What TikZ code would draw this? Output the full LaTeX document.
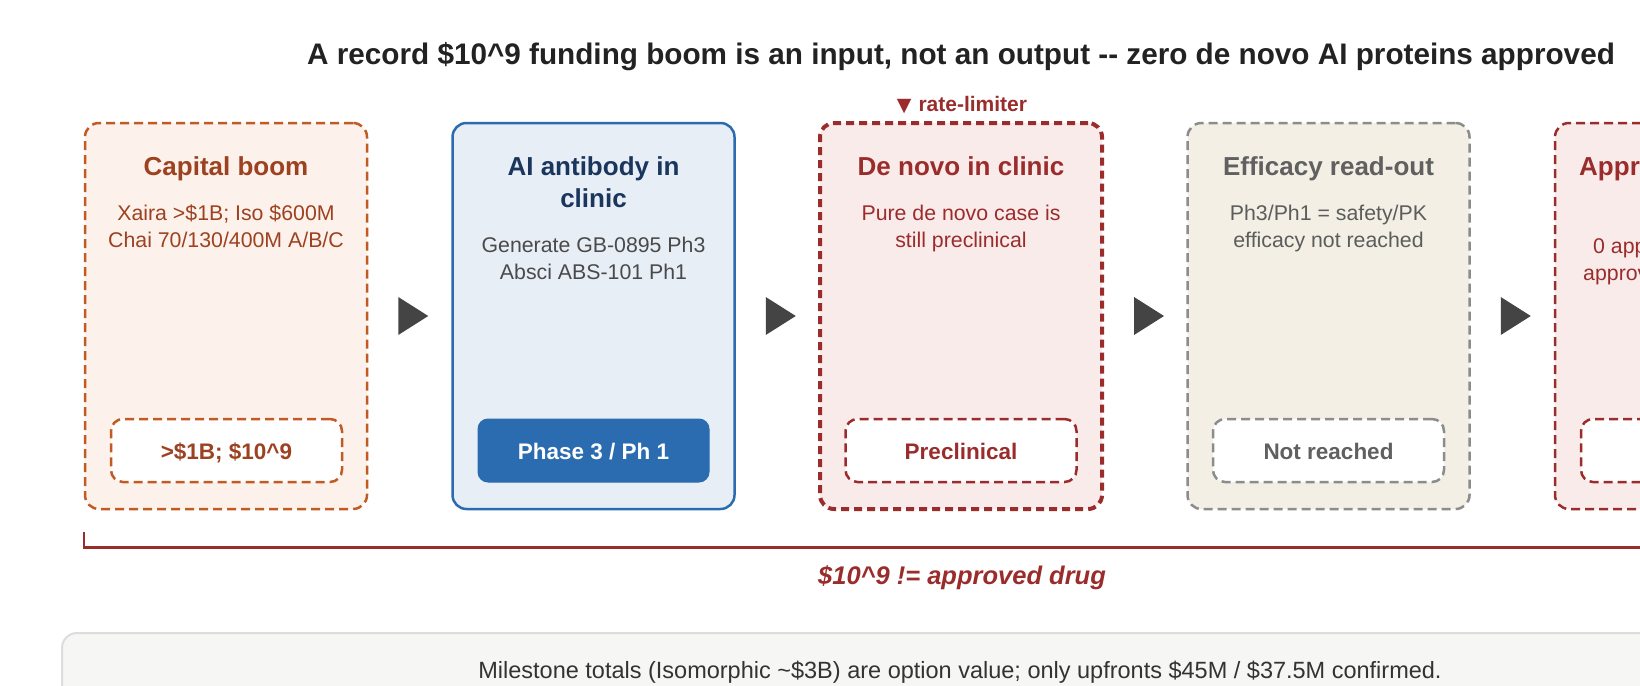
\documentclass[tikz,border=0pt]{standalone}
\usepackage{fontspec}
\setmainfont{Liberation Sans}
\newfontfamily\symfont{DejaVu Sans}
\usetikzlibrary{calc}
\definecolor{orgline}{HTML}{C25A24}
\definecolor{orgtext}{HTML}{9C4221}
\definecolor{orgfill}{HTML}{FDF1EB}
\definecolor{redline}{HTML}{9B2C2C}
\definecolor{redfill}{HTML}{FAEBEB}
\definecolor{blueline}{HTML}{2B6CB0}
\definecolor{bluefill}{HTML}{E8EEF6}
\definecolor{bluetitle}{HTML}{1A365D}
\definecolor{bluebody}{HTML}{4A4A4A}
\definecolor{grayline}{HTML}{8C8C8C}
\definecolor{grayfill}{HTML}{F3EFE5}
\definecolor{graytitle}{HTML}{606060}
\definecolor{graybody}{HTML}{5C5C5C}
\definecolor{arrowgray}{HTML}{444444}
\definecolor{titlecol}{HTML}{222222}
\definecolor{footfill}{HTML}{F6F6F4}
\definecolor{footline}{HTML}{DDDDDD}
\definecolor{foottext}{HTML}{333333}
\begin{document}
\begin{tikzpicture}[x=1pt,y=-1pt,
  card/.style={rounded corners=14pt, minimum width=282pt, minimum height=386pt, line width=2.5pt, inner sep=0pt},
  badge/.style={rounded corners=12pt, minimum width=231pt, minimum height=63pt, line width=2.5pt, inner sep=0pt,
    text height=17pt, text depth=0pt, font=\fontsize{22.5}{26}\selectfont\bfseries},
  dsh/.style={dash pattern=on 9pt off 5pt},
  ttl/.style={anchor=base, inner sep=0pt, font=\fontsize{26}{31}\selectfont\bfseries},
  bdy/.style={anchor=base, inner sep=0pt, font=\fontsize{21.3}{27}\selectfont},
  tri/.style={fill=arrowgray},
]
\useasboundingbox (0,0) rectangle (1640,685);
\clip (0,0) rectangle (1640,685);
\fill[white] (0,0) rectangle (1640,685);

% title
\node[anchor=base, inner sep=0pt, text=titlecol, font=\fontsize{29.7}{36}\selectfont\bfseries] (title) at (961,64)
  {A record \$10\^{}9 funding boom is an input, not an output -{}- zero de novo AI proteins approved};

% rate limiter label
\node[anchor=base, inner sep=0pt, text=redline, font=\fontsize{21}{25}\selectfont\bfseries] (rl) at (962,111)
  {{\symfont\fontsize{19}{23}\selectfont ▼}\hspace{7pt}rate-limiter};

% cards
\node[card, dsh, draw=orgline, fill=orgfill] (c1) at (226,316) {};
\node[card, draw=blueline, fill=bluefill] (c2) at (593.5,316) {};
\node[card, dash pattern=on 8pt off 5pt, line width=4pt, draw=redline, fill=redfill] (c3) at (961,316) {};
\node[card, dsh, draw=grayline, fill=grayfill] (c4) at (1328.5,316) {};
\node[card, dsh, draw=redline, fill=redfill] (c5) at (1696,316) {};

% arrows between cards
\foreach \a/\b in {c1/c2,c2/c3,c3/c4,c4/c5}{
  \fill[tri] ([xshift=30pt]\a.east) ++(0,-19) -- ++(30,19) -- ++(-30,19) -- cycle;
}

% card 1
\node[ttl, text=orgtext] (c1t) at (226,175) {Capital boom};
\node[bdy, text=orgtext] (c1a) at (226,220) {Xaira >\$1B; Iso \$600M};
\node[bdy, text=orgtext] (c1b) at (226,247) {Chai 70/130/400M A/B/C};
\node[badge, dsh, draw=orgline, fill=white, text=orgtext] (c1g) at (226.5,450.5) {>\$1B; \$10\^{}9};

% card 2
\node[ttl, text=bluetitle] (c2t) at (593.5,175) {AI antibody in};
\node[ttl, text=bluetitle] (c2u) at (593.5,207) {clinic};
\node[bdy, text=bluebody] (c2a) at (593.5,252) {Generate GB-0895 Ph3};
\node[bdy, text=bluebody] (c2b) at (593.5,279) {Absci ABS-101 Ph1};
\node[badge, draw=blueline, fill=blueline, rounded corners=10pt, line width=1pt, text=white] (c2g) at (593.5,450.5) {Phase 3 / Ph 1};

% card 3
\node[ttl, text=redline] (c3t) at (961,175) {De novo in clinic};
\node[bdy, text=redline] (c3a) at (961,220) {Pure de novo case is};
\node[bdy, text=redline] (c3b) at (961,247) {still preclinical};
\node[badge, dsh, draw=redline, fill=white, text=redline] (c3g) at (961,450.5) {Preclinical};

% card 4
\node[ttl, text=graytitle] (c4t) at (1328.5,175) {Efficacy read-out};
\node[bdy, text=graybody] (c4a) at (1328.5,220) {Ph3/Ph1 = safety/PK};
\node[bdy, text=graybody] (c4b) at (1328.5,247) {efficacy not reached};
\node[badge, dsh, draw=grayline, fill=white, text=graytitle] (c4g) at (1328.5,450.5) {Not reached};

% card 5 (cut by the right edge)
\node[ttl, anchor=base west, text=redline] (c5t) at (1579,175) {Approved};
\node[bdy, anchor=base west, text=redline] (c5a) at (1593,253) {0 approved};
\node[bdy, anchor=base west, text=redline] (c5b) at (1583,280) {approved};
\node[badge, dsh, draw=redline, fill=white] (c5g) at (1696.5,450.5) {};

% bracket
\coordinate (bl) at ([yshift=-22pt]c1.south west);
\coordinate (br) at ([yshift=-22pt]c5.south east);
\draw[redline, line width=2.5pt] (bl) -- ++(0,15) -| (br);
\node[anchor=base, inner sep=0pt, text=redline, font=\fontsize{25.5}{30}\selectfont\bfseries\itshape] (blab) at (962,584)
  {\$10\^{}9 != approved drug};

% footer
\node[draw=footline, fill=footfill, line width=2pt, rounded corners=15pt, minimum width=1798pt, minimum height=160pt, inner sep=0pt, anchor=north west] (foot) at (61,632) {};
\node[anchor=base, inner sep=0pt, text=foottext, font=\fontsize{23.5}{28}\selectfont] (foott) at (960,678)
  {Milestone totals (Isomorphic \textasciitilde\$3B) are option value; only upfronts \$45M / \$37.5M confirmed.};
\end{tikzpicture}
\end{document}
